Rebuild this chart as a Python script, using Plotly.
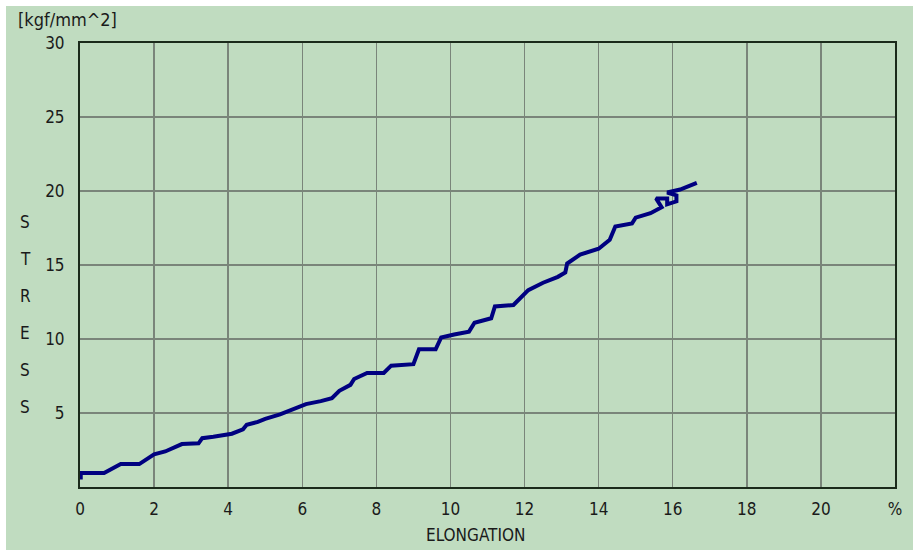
import plotly.graph_objects as go

elong = [0.02, 0.02, 0.65, 0.9, 1.1, 1.6, 1.8, 2.0, 2.3, 2.5, 2.75, 3.2, 3.3, 3.6, 4.1, 4.4, 4.5,
         4.8, 5.0, 5.4, 5.8, 6.1, 6.5, 6.8, 7.0, 7.3, 7.4, 7.75, 8.2, 8.4, 9.0, 9.15, 9.6, 9.75,
         10.1, 10.5, 10.65, 11.1, 11.2, 11.7, 12.1, 12.5, 12.9, 13.1, 13.15, 13.5, 14.0, 14.3,
         14.45, 14.9, 15.0, 15.4, 15.7, 15.55, 15.85, 15.85, 16.1, 16.1, 15.85, 16.2, 16.65]
stress = [0.5, 0.95, 0.95, 1.3, 1.55, 1.55, 1.9, 2.2, 2.4, 2.6, 2.9, 2.95, 3.3, 3.4, 3.6, 3.9, 4.2,
          4.4, 4.6, 4.9, 5.3, 5.6, 5.8, 6.0, 6.5, 6.9, 7.3, 7.7, 7.7, 8.2, 8.3, 9.3, 9.3, 10.1,
          10.3, 10.5, 11.1, 11.4, 12.2, 12.3, 13.3, 13.8, 14.2, 14.5, 15.1, 15.7, 16.1, 16.7,
          17.6, 17.8, 18.2, 18.5, 18.9, 19.5, 19.5, 19.1, 19.3, 19.7, 19.9, 20.1, 20.55]

x_tickvals = [0, 2, 4, 6, 8, 10, 12, 14, 16, 18, 20, 22]
x_ticktext = ["0", "2", "4", "6", "8", "10", "12", "14", "16", "18", "20", "%"]
y_tickvals = [5, 10, 15, 20, 25, 30]
y_ticktext = ["5", "10", "15", "20", "25", "30"]
stress_letters = ["S", "T", "R", "E", "S", "S"]

GREEN = "#C0DCC0"
FONT = "DejaVu Sans Condensed, Liberation Sans Narrow, Arial, sans-serif"

fig = go.Figure()
fig.add_trace(go.Scatter(x=elong, y=stress, mode="lines",
                         line=dict(color="#000080", width=4), showlegend=False,
                         hoverinfo="skip"))

W, H = 913, 556
L, R, T, B = 80, 18, 43, 69
pw, ph = W - L - R, H - T - B

def px(xp):
    return (xp - L) / pw

def py(yp):
    return (H - B - yp) / ph

fig.update_layout(
    width=W, height=H,
    margin=dict(l=L, r=R, t=T, b=B, autoexpand=False),
    paper_bgcolor="white",
    plot_bgcolor=GREEN,
    font=dict(family=FONT, size=17, color="#1a1a1a"),
    xaxis=dict(range=[0, 22], tickvals=x_tickvals, ticktext=x_ticktext,
               showgrid=True, gridcolor="#7a857a", gridwidth=1.5,
               showline=True, linecolor="#1a2a1a", linewidth=2, mirror=True,
               zeroline=False, ticks="", ticklabelstandoff=6, automargin=False),
    yaxis=dict(range=[0, 30], tickvals=y_tickvals, ticktext=y_ticktext,
               showgrid=True, gridcolor="#7a857a", gridwidth=1.5,
               showline=True, linecolor="#1a2a1a", linewidth=2, mirror=True,
               zeroline=False, ticks="", ticklabelstandoff=10, automargin=False),
    shapes=[dict(type="rect", xref="paper", yref="paper", layer="below",
                 x0=px(6), x1=px(913), y0=py(550), y1=py(6),
                 fillcolor=GREEN, line=dict(width=0))],
)

fig.add_annotation(x=px(16), y=py(20), xref="paper", yref="paper", text="[kgf/mm^2]",
                   showarrow=False, xanchor="left", yanchor="middle",
                   font=dict(family=FONT, size=18))
fig.add_annotation(x=px(475), y=py(535), xref="paper", yref="paper", text="ELONGATION",
                   showarrow=False, xanchor="center", yanchor="middle",
                   font=dict(family=FONT, size=17))
for i, ch in enumerate(stress_letters):
    fig.add_annotation(x=px(25), y=py(222 + 37 * i), xref="paper", yref="paper", text=ch,
                       showarrow=False, xanchor="center", yanchor="middle",
                       font=dict(family=FONT, size=17))

fig.write_html("out.html", config={"displayModeBar": False, "staticPlot": True},
               post_script="document.body.style.margin='0';document.body.style.overflow='hidden';")
